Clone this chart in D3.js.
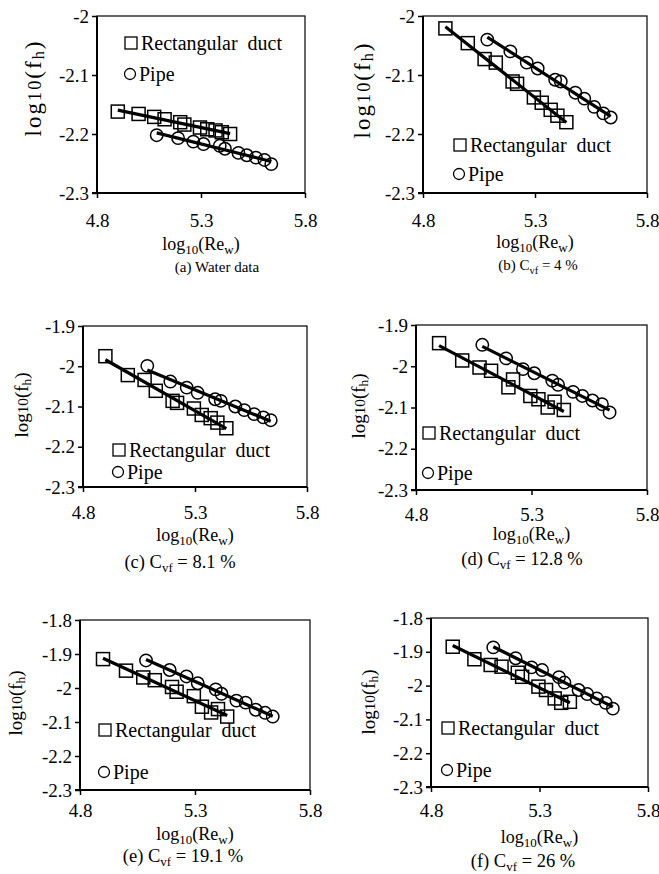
<!DOCTYPE html>
<html>
<head>
<meta charset="utf-8">
<script src="https://cdn.jsdelivr.net/npm/d3@7"></script>
<style>
  body { margin: 0; background: #fff; }
  svg text { font-family: "Liberation Serif", "Times New Roman", serif !important; fill: #000; }
</style>
</head>
<body>
<svg id="chart" width="659" height="874" font-family="Liberation Serif, serif"></svg>
<script>
// log10(Re_w) for each run (same flow rates in every panel)
const ductX = [4.90, 5.00, 5.075, 5.125, 5.20, 5.22, 5.295, 5.33, 5.37, 5.40, 5.44];
const pipeX = [5.087, 5.19, 5.263, 5.312, 5.39, 5.415, 5.48, 5.52, 5.564, 5.605, 5.638];

// log10(fh) values
const ductA = [-2.162, -2.166, -2.171, -2.175, -2.180, -2.184, -2.189, -2.192, -2.194, -2.197, -2.200];
const pipeA = [-2.202, -2.207, -2.213, -2.217, -2.220, -2.225, -2.232, -2.236, -2.240, -2.244, -2.251];
const ductB = [-2.021, -2.046, -2.073, -2.079, -2.111, -2.115, -2.138, -2.147, -2.159, -2.169, -2.180];
const pipeB = [-2.040, -2.060, -2.079, -2.089, -2.108, -2.111, -2.130, -2.140, -2.154, -2.165, -2.172];
const ductC = [-1.975, -2.022, -2.034, -2.061, -2.086, -2.091, -2.105, -2.121, -2.129, -2.140, -2.154];
const pipeC = [-1.999, -2.038, -2.053, -2.066, -2.082, -2.086, -2.100, -2.109, -2.119, -2.127, -2.134];
const ductD = [-1.944, -1.986, -2.003, -2.011, -2.051, -2.032, -2.072, -2.080, -2.100, -2.086, -2.106];
const pipeD = [-1.948, -1.981, -2.007, -2.017, -2.035, -2.045, -2.062, -2.072, -2.083, -2.092, -2.112];
const ductE = [-1.915, -1.949, -1.969, -1.977, -1.997, -2.011, -2.024, -2.055, -2.072, -2.062, -2.084];
const pipeE = [-1.919, -1.947, -1.966, -1.986, -2.004, -2.017, -2.037, -2.043, -2.064, -2.073, -2.084];
const ductF = [-1.885, -1.922, -1.939, -1.944, -1.962, -1.974, -2.003, -2.013, -2.038, -2.051, -2.048];
const pipeF = [-1.887, -1.919, -1.946, -1.954, -1.975, -1.991, -2.013, -2.025, -2.038, -2.051, -2.068];

const xTicks = [4.8, 5.3, 5.8];
const yTicksAB = [-2.3, -2.2, -2.1, -2];
const yTicksCD = [-2.3, -2.2, -2.1, -2, -1.9];
const yTicksEF = [-2.3, -2.2, -2.1, -2, -1.9, -1.8];

const captionLetters = ['a', 'b', 'c', 'd', 'e', 'f'];
const cvfValues = [null, '4', '8.1', '12.8', '19.1', '26'];

// page layout of each panel (pixels)
const panels = [
  { duct: ductA, pipe: pipeA, yTicks: yTicksAB, box: [97, 305, 16, 193],
    tickY: 34, xLabelY: 250, capX: 217, capY: 272, capSize: 15,
    yLab: [41, 89, 95, 23], leg: [131, 43, 74] },
  { duct: ductB, pipe: pipeB, yTicks: yTicksAB, box: [423, 647, 16, 193],
    tickY: 34, xLabelY: 248, capX: 538, capY: 270, capSize: 15,
    yLab: [370, 91, 95, 23], leg: [460, 145, 174] },
  { duct: ductC, pipe: pipeC, yTicks: yTicksCD, box: [83, 307, 326, 487],
    tickY: 32, xLabelY: 541, capX: 180, capY: 568, capSize: 18.5,
    yLab: [28, 405, null, 19], leg: [119, 450, 472] },
  { duct: ductD, pipe: pipeD, yTicks: yTicksCD, box: [416, 647, 325, 490],
    tickY: 31, xLabelY: 540, capX: 522, capY: 565, capSize: 18.5,
    yLab: [365, 406, null, 19], leg: [429, 433, 473] },
  { duct: ductE, pipe: pipeE, yTicks: yTicksEF, box: [80, 310, 620, 790],
    tickY: 27, xLabelY: 840, capX: 183, capY: 862, capSize: 18.5,
    yLab: [22, 703, null, 19], leg: [105, 730, 772] },
  { duct: ductF, pipe: pipeF, yTicks: yTicksEF, box: [431, 648, 618, 787],
    tickY: 30, xLabelY: 843, capX: 523, capY: 867, capSize: 18.5,
    yLab: [375, 702, null, 19], leg: [448, 728, 770] }
];

const serif = 'Liberation Serif, Times New Roman, serif';
const svg = d3.select('#chart');

function fitLine(xs, ys) {
  const mx = d3.mean(xs), my = d3.mean(ys);
  const sxy = d3.sum(xs, (v, i) => (v - mx) * (ys[i] - my));
  const sxx = d3.sum(xs, v => (v - mx) * (v - mx));
  const b = sxy / sxx;
  const a = my - b * mx;
  const x0 = d3.min(xs), x1 = d3.max(xs);
  return [[x0, a + b * x0], [x1, a + b * x1]];
}

panels.forEach((p, idx) => {
  const [left, right, top, bottom] = p.box;
  const x = d3.scaleLinear().domain([4.8, 5.8]).range([left, right]);
  const y = d3.scaleLinear().domain(d3.extent(p.yTicks)).range([bottom, top]);
  const g = svg.append('g');

  // frame
  g.append('rect')
    .attr('x', left).attr('y', top)
    .attr('width', right - left).attr('height', bottom - top)
    .attr('fill', 'none').attr('stroke', '#000').attr('stroke-width', 1.2);

  // axes
  const xAxis = g.append('g')
    .attr('transform', `translate(0,${bottom})`)
    .call(d3.axisBottom(x).tickValues(xTicks).tickSize(5).tickFormat(d3.format('.1f')));
  xAxis.attr('font-family', serif).attr('font-size', null);
  xAxis.select('.domain').remove();
  xAxis.selectAll('line').attr('stroke-width', 1.5);
  xAxis.selectAll('text')
    .attr('y', p.tickY).attr('dy', 0)
    .attr('font-family', serif)
    .attr('font-size', 19);

  const yAxis = g.append('g')
    .attr('transform', `translate(${left},0)`)
    .call(d3.axisLeft(y).tickValues(p.yTicks).tickSize(5).tickFormat(d => String(d)));
  yAxis.attr('font-family', serif).attr('font-size', null);
  yAxis.select('.domain').remove();
  yAxis.selectAll('line').attr('stroke-width', 1.5);
  yAxis.selectAll('text')
    .attr('font-family', serif)
    .attr('font-size', 19);

  g.append('line')
    .attr('x1', left).attr('x2', left).attr('y1', top).attr('y2', bottom)
    .attr('stroke', '#000').attr('stroke-width', 2);
  g.append('line')
    .attr('x1', left - 5).attr('x2', right).attr('y1', bottom).attr('y2', bottom)
    .attr('stroke', '#000').attr('stroke-width', 2);

  // fitted lines
  const line = d3.line().x(d => x(d[0])).y(d => y(d[1]));
  [[ductX, p.duct], [pipeX, p.pipe]].forEach(([xs, ys]) => {
    g.append('path')
      .attr('d', line(fitLine(xs, ys)))
      .attr('fill', 'none').attr('stroke', '#000').attr('stroke-width', 3.2);
  });

  // markers
  const ductPts = ductX.map((v, i) => [v, p.duct[i]]);
  const pipePts = pipeX.map((v, i) => [v, p.pipe[i]]);
  g.selectAll('.sq').data(ductPts).enter().append('rect')
    .attr('x', d => x(d[0]) - 6.5).attr('y', d => y(d[1]) - 6.5)
    .attr('width', 13).attr('height', 13)
    .attr('fill', 'none').attr('stroke', '#000').attr('stroke-width', 1.5);
  g.selectAll('.ci').data(pipePts).enter().append('circle')
    .attr('cx', d => x(d[0])).attr('cy', d => y(d[1])).attr('r', 6.2)
    .attr('fill', 'none').attr('stroke', '#000').attr('stroke-width', 1.5);

  // legend
  const [lx, ly1, ly2] = p.leg;
  g.append('rect')
    .attr('x', lx - 6).attr('y', ly1 - 6).attr('width', 12).attr('height', 12)
    .attr('fill', 'none').attr('stroke', '#000').attr('stroke-width', 1.3);
  g.append('text')
    .attr('x', lx + 10).attr('y', ly1 + 7)
    .attr('font-family', serif).attr('font-size', 20)
    .attr('xml:space', 'preserve')
    .text('Rectangular  duct');
  g.append('circle')
    .attr('cx', lx - 1).attr('cy', ly2).attr('r', 5.5)
    .attr('fill', 'none').attr('stroke', '#000').attr('stroke-width', 1.3);
  g.append('text')
    .attr('x', lx + 8).attr('y', ly2 + 7)
    .attr('font-family', serif).attr('font-size', 20)
    .text('Pipe');

  // x axis title: log10(Re_w)
  const xt = g.append('text')
    .attr('x', (left + right) / 2).attr('y', p.xLabelY)
    .attr('text-anchor', 'middle').attr('font-size', 18);
  xt.append('tspan').text('log');
  xt.append('tspan').attr('font-size', 13).attr('dy', 4).text('10');
  xt.append('tspan').attr('dy', -4).text('(Re');
  xt.append('tspan').attr('font-size', 13).attr('dy', 4).text('w');
  xt.append('tspan').attr('dy', -4).text(')');

  // y axis title: log10(fh)
  const [yx, yy, ylen, ysize] = p.yLab;
  const yt = g.append('text')
    .attr('transform', `translate(${yx},${yy}) rotate(-90)`)
    .attr('text-anchor', 'middle').attr('font-size', ysize);
  if (ylen) yt.attr('textLength', ylen).attr('lengthAdjust', 'spacing');
  yt.append('tspan').text('log');
  yt.append('tspan').attr('font-size', ysize * 0.8).text('10');
  yt.append('tspan').text('(f');
  yt.append('tspan').attr('font-size', ysize * 0.7).attr('dy', 3).text('h');
  yt.append('tspan').attr('dy', -3).text(')');

  // caption
  const cap = g.append('text')
    .attr('x', p.capX).attr('y', p.capY)
    .attr('text-anchor', 'middle').attr('font-size', p.capSize);
  if (cvfValues[idx] === null) {
    cap.text(`(${captionLetters[idx]}) Water data`);
  } else {
    cap.append('tspan').text(`(${captionLetters[idx]}) C`);
    cap.append('tspan').attr('font-size', p.capSize * 0.7).attr('dy', 4).text('vf');
    cap.append('tspan').attr('dy', -4).text(` = ${cvfValues[idx]} %`);
  }
});
</script>
</body>
</html>
